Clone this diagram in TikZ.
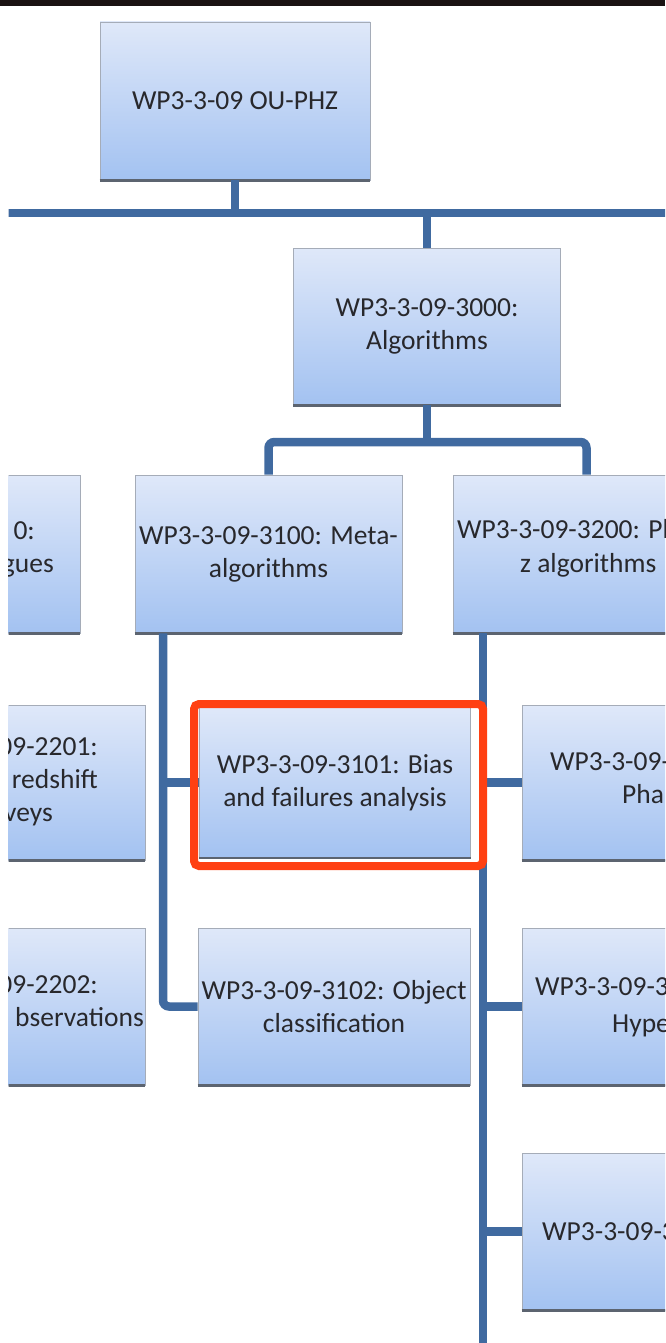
\documentclass[tikz,border=0pt]{standalone}
\usepackage{fontspec}
\setmainfont{Carlito}
\definecolor{lnblue}{RGB}{64,106,160}
\definecolor{boxtop}{RGB}{223,232,249}
\definecolor{boxbot}{RGB}{163,194,241}
\definecolor{boxedge}{RGB}{165,172,184}
\definecolor{boxshade}{RGB}{92,100,112}
\definecolor{hilite}{RGB}{255,64,18}
\definecolor{topstrip}{RGB}{26,18,18}
\definecolor{txtgray}{RGB}{40,40,44}
\tikzset{
  wp/.style={rectangle, draw=boxedge, line width=0.8pt,
    top color=boxtop, bottom color=boxbot,
    minimum width=268pt, minimum height=157pt, inner sep=0pt,
    align=center, text=txtgray, font=\fontsize{27.5}{33}\selectfont},
  frag/.style={inner sep=0pt, text=txtgray, font=\fontsize{27.5}{33}\selectfont},
  link/.style={draw=lnblue, line width=8.5pt},
  shadeline/.style={draw=boxshade, line width=2.5pt},
  focusframe/.style={rectangle, draw=hilite, line width=8pt, rounded corners=5pt,
    inner sep=0pt, fill=none}
}
\begin{document}
\begin{tikzpicture}[x=1pt,y=-1pt]
\useasboundingbox (0,0) rectangle (665,1343);
\fill[topstrip] (0,0) rectangle (665,6.5);
\begin{scope}
\clip (8.5,6.5) rectangle (665,1343);

% work-package boxes
\node[wp, minimum width=270pt, minimum height=158pt] (root) at (235,101) {WP3-3-09 OU-PHZ};
\node[wp, minimum width=267pt] (algo) at (427,326.5) {WP3-3-09-3000:\\Algorithms};
\node[wp, minimum width=267pt, minimum height=158pt] (catl) at (-53.5,554) {};
\node[wp, minimum width=267pt, minimum height=158pt] (meta) at (268.5,554) {WP3-3-09-3100: Meta-\\algorithms};
\node[wp, minimum width=267pt, minimum height=158pt] (phz) at (586.5,554) {};
\node[wp, minimum width=272pt, minimum height=155pt] (lsurv) at (9,782.5) {};
\node[wp, minimum width=271pt, minimum height=150pt] (b3101) at (335,782.5) {WP3-3-09-3101: Bias\\and failures analysis};
\node[wp, minimum width=272pt, minimum height=155pt] (r1) at (658,782.5) {};
\node[wp, minimum width=272pt] (lobs) at (9,1006.5) {};
\node[wp, minimum width=272pt] (b3102) at (334,1006.5) {WP3-3-09-3102: Object\\classification};
\node[wp, minimum width=272pt] (r2) at (658,1006.5) {};
\node[wp, minimum width=272pt] (r3) at (658,1231.5) {};

% darker bottom edge of every box
\foreach \b in {root,algo,catl,meta,phz,lsurv,b3101,r1,lobs,b3102,r2,r3}
  \draw[shadeline] (\b.south west) -- (\b.south east);

% text of the boxes that run past the edges
\node[frag, anchor=base east] (catlA) at (35,539) {0:};
\node[frag, anchor=base east] (catlB) at (54,572) {gues};
\node[frag, anchor=base west] (phzA) at (457,538) {WP3-3-09-3200: Ph};
\node[frag, anchor=base west] (phzB) at (520,572) {z algorithms};
\node[frag, anchor=base east] (lsurvA) at (98,755) {09-2201:};
\node[frag, anchor=base east] (lsurvB) at (98,788) {redshift};
\node[frag, anchor=base east] (lsurvC) at (53,821) {veys};
\node[frag, anchor=base east] (lobsA) at (98,993) {09-2202:};
\node[frag, anchor=base east] (lobsB) at (144,1026) {bservations};
\node[frag, anchor=base west] (r1A) at (550,770) {WP3-3-09-};
\node[frag, anchor=base west] (r1B) at (622,803) {Pha};
\node[frag, anchor=base west] (r2A) at (535,995) {WP3-3-09-3};
\node[frag, anchor=base west] (r2B) at (612,1032) {Hype};
\node[frag, anchor=base west] (r3A) at (542,1240) {WP3-3-09-3};

% connectors
\coordinate (barL) at (0,213);
\coordinate (barR) at (700,213);
\coordinate (hy) at (0,442);
\coordinate (mx) at (163,0);
\coordinate (px) at (483,0);
\coordinate (pend) at (483,1360);
\draw[link] (barL) -- (barR);
\draw[link] (root.south) -- (root.south |- barL);
\draw[link] (algo.north) -- (algo.north |- barL);
\draw[link] (algo.south) -- (algo.south |- hy);
\draw[link, rounded corners=6pt] (meta.north) -- (meta.north |- hy) -- (phz.north |- hy) -- (phz.north);
\draw[link, rounded corners=6pt] (meta.south -| mx) |- (b3102.west);
\draw[link] (mx |- b3101.west) -- (b3101.west);
\draw[link] (phz.south -| px) -- (pend);
\foreach \b in {r1,r2,r3}
  \draw[link] (px |- \b.west) -- (\b.west);

% highlight round the bias box
\node[focusframe, minimum width=289pt, minimum height=162pt] (focus) at (338.5,785) {};
\end{scope}
\end{tikzpicture}
\end{document}
